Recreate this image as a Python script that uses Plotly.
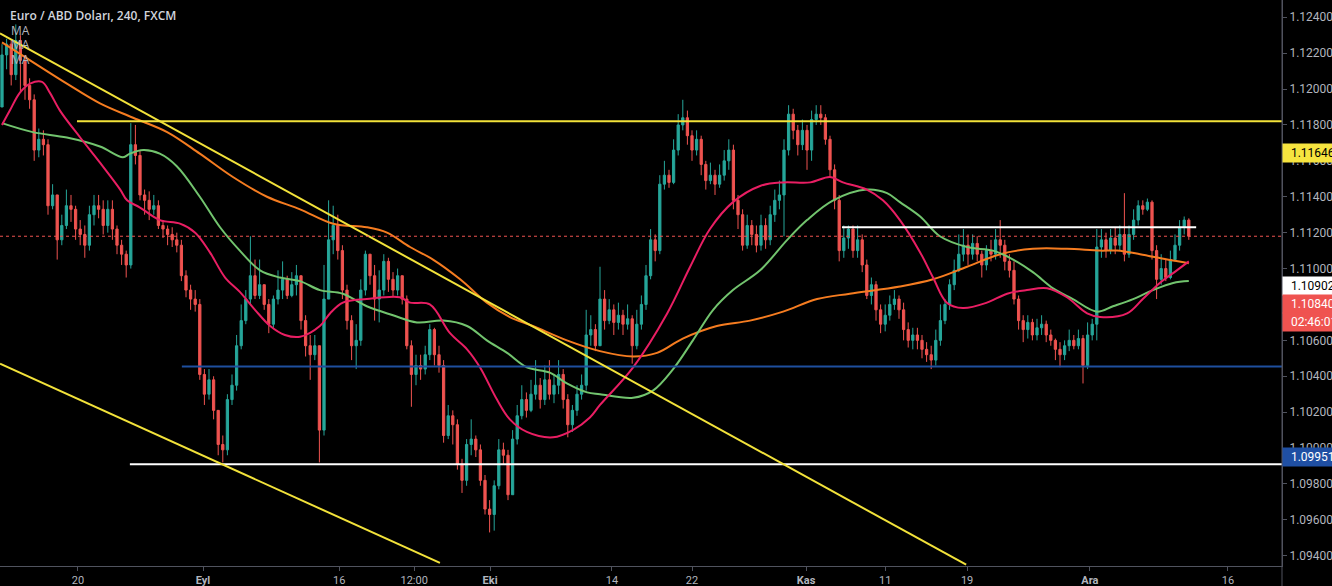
import plotly.graph_objects as go

# ---------------- data (EUR/USD 4H, one bar per 8h) ----------------
first_open = 1.1190
closes = [
    1.1219, 1.1225, 1.1208, 1.1227, 1.1216, 1.1202, 1.1194, 1.1166, 1.1172, 1.1169,
    1.1135, 1.1141, 1.1116, 1.1124, 1.1135, 1.1133, 1.1122, 1.1119, 1.1113, 1.1130,
    1.1135, 1.1133, 1.1124, 1.1133, 1.1122, 1.1113, 1.1108, 1.1102, 1.1169, 1.1163,
    1.1141, 1.1138, 1.1133, 1.1135, 1.1124, 1.1122, 1.1119, 1.1116, 1.1113, 1.1096,
    1.1088, 1.1083, 1.1080, 1.1041, 1.1030, 1.1038, 1.1021, 1.1002, 1.0999, 1.1027,
    1.1035, 1.1057, 1.1071, 1.1083, 1.1096, 1.1085, 1.1091, 1.1080, 1.1069, 1.1083,
    1.1088, 1.1094, 1.1085, 1.1091, 1.1096, 1.1071, 1.1057, 1.1052, 1.1057, 1.1010,
    1.1083, 1.1116, 1.1124, 1.1110, 1.1088, 1.1071, 1.1057, 1.1060, 1.1088, 1.1108,
    1.1096, 1.1083, 1.1088, 1.1104, 1.1094, 1.1088, 1.1096, 1.1083, 1.1057, 1.1041,
    1.1046, 1.1044, 1.1052, 1.1066, 1.1052, 1.1046, 1.1007, 1.1018, 1.1013, 1.0991,
    1.0982, 1.1002, 1.1005, 1.0999, 1.0982, 1.0966, 1.0963, 1.0979, 1.0999, 1.0996,
    1.0974, 1.1005, 1.1018, 1.1027, 1.1021, 1.1030, 1.1035, 1.1027, 1.1038, 1.1030,
    1.1035, 1.1041, 1.1027, 1.1013, 1.1021, 1.1030, 1.1035, 1.1063, 1.1066, 1.1057,
    1.1083, 1.1071, 1.1077, 1.1070, 1.1074, 1.1069, 1.1072, 1.1057, 1.1069, 1.1080,
    1.1096, 1.1116, 1.1110, 1.1147, 1.1152, 1.1148, 1.1166, 1.1180, 1.1184, 1.1174,
    1.1166, 1.1172, 1.1158, 1.1149, 1.1152, 1.1147, 1.1152, 1.1160, 1.1166, 1.1138,
    1.1130, 1.1113, 1.1124, 1.1119, 1.1113, 1.1124, 1.1116, 1.1130, 1.1138, 1.1141,
    1.1166, 1.1186, 1.1177, 1.1169, 1.1177, 1.1166, 1.1183, 1.1186, 1.1184, 1.1172,
    1.1155, 1.1138, 1.1110, 1.1117, 1.1122, 1.1110, 1.1116, 1.1102, 1.1085, 1.1091,
    1.1077, 1.1069, 1.1074, 1.1080, 1.1083, 1.1077, 1.1066, 1.1060, 1.1063, 1.1060,
    1.1055, 1.1052, 1.1049, 1.1060, 1.1071, 1.1080, 1.1091, 1.1099, 1.1108, 1.1113,
    1.1108, 1.1114, 1.1108, 1.1102, 1.1110, 1.1108, 1.1116, 1.1113, 1.1104, 1.1099,
    1.1083, 1.1071, 1.1066, 1.1070, 1.1063, 1.1067, 1.1069, 1.1063, 1.1060, 1.1055,
    1.1052, 1.1057, 1.1060, 1.1057, 1.1061, 1.1046, 1.1063, 1.1069, 1.1112, 1.1116,
    1.1110, 1.1117, 1.1113, 1.1119, 1.1108, 1.1119, 1.1127, 1.1135, 1.1133, 1.1137,
    1.1110, 1.1094, 1.1100, 1.1095, 1.1105, 1.1113, 1.1123, 1.1127, 1.1118,
]
highs = [
    1.1225, 1.1228, 1.1227, 1.1236, 1.1230, 1.1219, 1.1206, 1.1197, 1.1178, 1.1177,
    1.1172, 1.1147, 1.1141, 1.1130, 1.1144, 1.1141, 1.1135, 1.1127, 1.1124, 1.1135,
    1.1141, 1.1141, 1.1138, 1.1138, 1.1138, 1.1124, 1.1116, 1.1110, 1.1181, 1.1180,
    1.1166, 1.1144, 1.1143, 1.1141, 1.1138, 1.1127, 1.1124, 1.1123, 1.1120, 1.1116,
    1.1099, 1.1091, 1.1088, 1.1083, 1.1044, 1.1044, 1.1040, 1.1021, 1.1007, 1.1030,
    1.1041, 1.1063, 1.1080, 1.1088, 1.1118, 1.1105, 1.1105, 1.1091, 1.1083, 1.1085,
    1.1099, 1.1104, 1.1096, 1.1098, 1.1102, 1.1096, 1.1074, 1.1063, 1.1063, 1.1057,
    1.1102, 1.1138, 1.1135, 1.1130, 1.1113, 1.1091, 1.1074, 1.1069, 1.1094, 1.1110,
    1.1108, 1.1102, 1.1099, 1.1108, 1.1106, 1.1098, 1.1100, 1.1096, 1.1085, 1.1060,
    1.1052, 1.1052, 1.1057, 1.1069, 1.1067, 1.1057, 1.1049, 1.1024, 1.1021, 1.1016,
    1.0994, 1.1005, 1.1016, 1.1007, 1.1002, 1.0985, 1.0971, 1.0982, 1.1005, 1.1003,
    1.0999, 1.1010, 1.1024, 1.1035, 1.1031, 1.1038, 1.1049, 1.1039, 1.1046, 1.1049,
    1.1041, 1.1049, 1.1044, 1.1030, 1.1024, 1.1035, 1.1041, 1.1077, 1.1074, 1.1069,
    1.1101, 1.1088, 1.1083, 1.1080, 1.1081, 1.1077, 1.1080, 1.1074, 1.1077, 1.1085,
    1.1102, 1.1122, 1.1119, 1.1152, 1.1160, 1.1155, 1.1172, 1.1186, 1.1194, 1.1188,
    1.1177, 1.1177, 1.1174, 1.1160, 1.1159, 1.1155, 1.1158, 1.1166, 1.1172, 1.1169,
    1.1141, 1.1133, 1.1130, 1.1127, 1.1124, 1.1130, 1.1128, 1.1135, 1.1144, 1.1149,
    1.1172, 1.1191, 1.1189, 1.1180, 1.1183, 1.1180, 1.1188, 1.1191, 1.1191, 1.1186,
    1.1174, 1.1158, 1.1141, 1.1124, 1.1124, 1.1124, 1.1124, 1.1119, 1.1105, 1.1095,
    1.1093, 1.1080, 1.1080, 1.1085, 1.1088, 1.1085, 1.1081, 1.1070, 1.1067, 1.1067,
    1.1063, 1.1059, 1.1057, 1.1066, 1.1080, 1.1083, 1.1094, 1.1105, 1.1119, 1.1122,
    1.1119, 1.1119, 1.1118, 1.1110, 1.1113, 1.1116, 1.1122, 1.1127, 1.1116, 1.1108,
    1.1104, 1.1085, 1.1074, 1.1074, 1.1072, 1.1072, 1.1074, 1.1071, 1.1066, 1.1061,
    1.1059, 1.1060, 1.1066, 1.1063, 1.1066, 1.1063, 1.1070, 1.1072, 1.1122, 1.1122,
    1.1120, 1.1122, 1.1123, 1.1124, 1.1142, 1.1124, 1.1133, 1.1138, 1.1138, 1.1139,
    1.1138, 1.1113, 1.1108, 1.1105, 1.1110, 1.1119, 1.1127, 1.1129, 1.1128,
]
lows = [
    1.1190, 1.1211, 1.1202, 1.1205, 1.1198, 1.1194, 1.1189, 1.1160, 1.1162, 1.1163,
    1.1130, 1.1133, 1.1105, 1.1113, 1.1122, 1.1126, 1.1116, 1.1113, 1.1106, 1.1110,
    1.1124, 1.1128, 1.1119, 1.1120, 1.1116, 1.1108, 1.1102, 1.1095, 1.1100, 1.1158,
    1.1138, 1.1130, 1.1127, 1.1130, 1.1122, 1.1117, 1.1113, 1.1112, 1.1109, 1.1093,
    1.1084, 1.1077, 1.1076, 1.1038, 1.1024, 1.1027, 1.1016, 1.0996, 1.0992, 1.0996,
    1.1024, 1.1032, 1.1055, 1.1069, 1.1080, 1.1083, 1.1083, 1.1077, 1.1064, 1.1067,
    1.1080, 1.1083, 1.1083, 1.1084, 1.1085, 1.1066, 1.1051, 1.1038, 1.1049, 1.0992,
    1.1007, 1.1083, 1.1108, 1.1105, 1.1083, 1.1066, 1.1049, 1.1044, 1.1057, 1.1085,
    1.1091, 1.1071, 1.1070, 1.1085, 1.1087, 1.1084, 1.1085, 1.1080, 1.1055, 1.1023,
    1.1035, 1.1038, 1.1041, 1.1049, 1.1046, 1.1042, 1.1003, 1.1005, 1.1002, 1.0988,
    1.0975, 1.0979, 1.0996, 1.0995, 1.0979, 1.0963, 1.0953, 1.0954, 1.0977, 1.0991,
    1.0971, 1.0974, 1.1002, 1.1016, 1.1017, 1.1020, 1.1027, 1.1022, 1.1024, 1.1027,
    1.1025, 1.1030, 1.1022, 1.1006, 1.1009, 1.1018, 1.1027, 1.1032, 1.1057, 1.1054,
    1.1057, 1.1066, 1.1069, 1.1063, 1.1066, 1.1063, 1.1066, 1.1047, 1.1055, 1.1066,
    1.1077, 1.1094, 1.1104, 1.1108, 1.1144, 1.1145, 1.1147, 1.1163, 1.1177, 1.1169,
    1.1160, 1.1163, 1.1152, 1.1144, 1.1147, 1.1141, 1.1145, 1.1149, 1.1155, 1.1133,
    1.1122, 1.1110, 1.1111, 1.1113, 1.1109, 1.1110, 1.1111, 1.1113, 1.1126, 1.1133,
    1.1118, 1.1163, 1.1172, 1.1163, 1.1166, 1.1155, 1.1160, 1.1180, 1.1180, 1.1169,
    1.1151, 1.1133, 1.1104, 1.1106, 1.1111, 1.1106, 1.1106, 1.1098, 1.1083, 1.1080,
    1.1071, 1.1064, 1.1065, 1.1071, 1.1077, 1.1072, 1.1060, 1.1056, 1.1055, 1.1055,
    1.1050, 1.1048, 1.1044, 1.1046, 1.1057, 1.1069, 1.1077, 1.1088, 1.1098, 1.1104,
    1.1102, 1.1105, 1.1104, 1.1095, 1.1099, 1.1104, 1.1105, 1.1106, 1.1099, 1.1095,
    1.1080, 1.1066, 1.1059, 1.1061, 1.1060, 1.1060, 1.1063, 1.1059, 1.1057, 1.1049,
    1.1045, 1.1049, 1.1054, 1.1055, 1.1055, 1.1036, 1.1044, 1.1060, 1.1060, 1.1106,
    1.1106, 1.1108, 1.1108, 1.1110, 1.1104, 1.1106, 1.1116, 1.1124, 1.1130, 1.1132,
    1.1105, 1.1083, 1.1091, 1.1093, 1.1094, 1.1104, 1.1110, 1.1119, 1.1116,
]

# moving averages (sampled along the bar index)
ma_fast_x = [0, 1.7, 3.9, 6.1, 8.7, 10.4, 12.6, 17.0, 21.3, 25.7, 27.2, 30.0, 34.3, 38.7, 42.0,
             45.2, 48.5, 51.7, 55.0, 58.3, 61.5, 64.8, 69.1, 71.3, 74.1, 79.3, 86.5, 88.7, 93.0,
             97.4, 101.1, 103.9, 107.6, 110.4, 114.1, 119.8, 124.1, 127.8, 130.0, 137.2, 144.6,
             149.6, 153.9, 158.9, 164.8, 169.8, 175.7, 180.0, 182.8, 188.0, 191.5, 195.2, 199.6,
             202.4, 205.4, 208.9, 214.1, 218.5, 222.8, 227.2, 231.5, 235.9, 238.7, 244.6, 248.0,
             251.7, 255.4, 258]
ma_fast_y = [1.1180, 1.1188, 1.1198, 1.1203, 1.1204, 1.1198, 1.1188, 1.1173, 1.1159, 1.1144,
             1.1138, 1.1134, 1.1127, 1.1125, 1.1120, 1.1109, 1.1095, 1.1087, 1.1077, 1.1068,
             1.1063, 1.1062, 1.1068, 1.1075, 1.1081, 1.1083, 1.1084, 1.1081, 1.1080, 1.1064,
             1.1055, 1.1045, 1.1027, 1.1016, 1.1009, 1.1006, 1.1010, 1.1017, 1.1024, 1.1045,
             1.1075, 1.1101, 1.1122, 1.1137, 1.1146, 1.1148, 1.1148, 1.1151, 1.1148, 1.1144,
             1.1138, 1.1127, 1.1109, 1.1095, 1.1081, 1.1078, 1.1081, 1.1086, 1.1088, 1.1089,
             1.1084, 1.1075, 1.1073, 1.1075, 1.1083, 1.1092, 1.1099, 1.1104]
ma_mid_x = [0, 6.7, 14.1, 21.3, 26.3, 27.8, 30.7, 34.3, 38.0, 43.0, 47.4, 51.7, 56.1, 60.4, 64.8,
            69.1, 74.1, 79.3, 85.0, 90.2, 95.9, 101.1, 105.4, 109.8, 114.1, 119.1, 122.8, 127.2,
            130.0, 137.2, 141.5, 145.9, 150.2, 154.6, 158.9, 164.8, 170.7, 175.0, 180.7, 188.0,
            192.4, 195.2, 199.6, 203.9, 209.8, 215.4, 219.1, 224.1, 228.5, 232.8, 238.0, 241.5,
            245.9, 250.2, 254.6, 258]
ma_mid_y = [1.1181, 1.1176, 1.1173, 1.1168, 1.1162, 1.1164, 1.1166, 1.1164, 1.1157, 1.1140,
            1.1123, 1.1110, 1.1099, 1.1095, 1.1093, 1.1088, 1.1086, 1.1079, 1.1074, 1.1070,
            1.1071, 1.1068, 1.1060, 1.1053, 1.1045, 1.1042, 1.1036, 1.1031, 1.1030, 1.1028,
            1.1032, 1.1044, 1.1060, 1.1077, 1.1088, 1.1099, 1.1116, 1.1127, 1.1138, 1.1144,
            1.1142, 1.1137, 1.1129, 1.1118, 1.1112, 1.1110, 1.1106, 1.1098, 1.1089, 1.1083,
            1.1076, 1.1079, 1.1083, 1.1088, 1.1092, 1.1093]
ma_slow_x = [0, 6.7, 14.1, 21.3, 28.5, 35.9, 43.0, 50.2, 57.6, 64.8, 72.0, 79.3, 83.7, 88.7, 93.7,
             99.6, 105.4, 110.4, 115.4, 122.8, 130.0, 137.2, 142.4, 148.0, 155.4, 162.6, 169.8,
             177.2, 184.3, 195.2, 202.4, 209.8, 217.0, 224.1, 231.5, 238.7, 242.4, 247.4, 253.3, 258]
ma_slow_y = [1.1226, 1.1215, 1.1203, 1.1192, 1.1184, 1.1176, 1.1164, 1.1151, 1.1140, 1.1133,
             1.1125, 1.1123, 1.1120, 1.1112, 1.1105, 1.1094, 1.1081, 1.1073, 1.1068, 1.1060,
             1.1054, 1.1051, 1.1053, 1.1061, 1.1068, 1.1071, 1.1076, 1.1083, 1.1086, 1.1090,
             1.1094, 1.1101, 1.1108, 1.1111, 1.1111, 1.1110, 1.1110, 1.1108, 1.1105, 1.1103]

# drawn levels (price, start bar, end bar)
level_prices = [1.1182, 1.1123, 1.10455, 1.0991]
level_start = [16.3, 182.6, 39.1, 27.8]
level_end = [278.3, 259.6, 278.3, 278.3]
level_colors = ["#f2e23a", "#ffffff", "#1e4f9e", "#ffffff"]

# trend lines ((bar, price), (bar, price))
trend_lines = [((-0.44, 1.1231), (209.6, 1.0935)),
               ((-0.44, 1.1047), (95.2, 1.0936))]

# price axis labels on the right
tag_texts = ["1.11646", "1.10902", "1.10840", "02:46:01", "1.09951"]
tag_prices = [1.11646, 1.10902, 1.1080, 1.1070, 1.09951]
tag_bg = ["#f6e43f", "#ffffff", "#ef5350", "#ef5350", "#1f4fa3"]
tag_fg = ["#000000", "#000000", "#ffffff", "#ffffff", "#ffffff"]

y_ticks = [1.0940, 1.0960, 1.0980, 1.1000, 1.1020, 1.1040, 1.1060, 1.1080, 1.1100,
           1.1120, 1.1140, 1.1160, 1.1180, 1.1200, 1.1220, 1.1240]
x_tick_pos = [16.5, 43.7, 73.3, 89.6, 106.1, 132.6, 150.0, 174.8, 192.0, 209.8, 236.5, 266.5]
x_tick_text = ["20", "<b>Eyl</b>", "16", "12:00", "<b>Eki</b>", "14", "22", "<b>Kas</b>",
               "11", "19", "<b>Ara</b>", "16"]

# ---------------- figure ----------------
UP = "#26a69a"
DN = "#ef5350"
AX = "#50535e"
TXT = "#b2b5be"

idx = list(range(len(closes)))
opens = [first_open] + closes[:-1]

fig = go.Figure()
fig.add_trace(go.Candlestick(
    x=idx, open=opens, high=highs, low=lows, close=closes,
    increasing=dict(line=dict(color=UP, width=1), fillcolor=UP),
    decreasing=dict(line=dict(color=DN, width=1), fillcolor=DN),
    whiskerwidth=0, hoverinfo="skip", showlegend=False,
))
for xs, ys, col in [(ma_slow_x, ma_slow_y, "#f57c20"),
                    (ma_mid_x, ma_mid_y, "#72c46e"),
                    (ma_fast_x, ma_fast_y, "#e91e63")]:
    fig.add_trace(go.Scatter(x=xs, y=ys, mode="lines", hoverinfo="skip", showlegend=False,
                             line=dict(color=col, width=2, shape="spline", smoothing=1.0)))

shapes = []
for p, x0, x1, c in zip(level_prices, level_start, level_end, level_colors):
    shapes.append(dict(type="line", xref="x", yref="y", x0=x0, x1=x1, y0=p, y1=p,
                       line=dict(color=c, width=2), layer="above"))
for (xa, ya), (xb, yb) in trend_lines:
    shapes.append(dict(type="line", xref="x", yref="y", x0=xa, y0=ya, x1=xb, y1=yb,
                       line=dict(color="#f2e23a", width=2), layer="above"))
shapes.append(dict(type="line", xref="paper", yref="y", x0=0, x1=1, y0=closes[-1], y1=closes[-1],
                   line=dict(color=DN, width=1, dash="dot"), layer="above"))
shapes.append(dict(type="line", xref="paper", yref="paper", x0=1, x1=1, y0=-0.05, y1=1,
                   line=dict(color=AX, width=1), layer="above"))

annotations = [
    dict(xref="paper", yref="paper", x=0, y=1, xanchor="left", yanchor="middle",
         xshift=8, yshift=-15, showarrow=False, text="Euro / ABD Doları, 240, FXCM",
         font=dict(family="Open Sans", size=12, color="#d1d4dc", weight=600)),
]
for k in range(3):
    annotations.append(dict(xref="paper", yref="paper", x=0, y=1, xanchor="left", yanchor="middle",
                            xshift=9, yshift=-30 - 14.5 * k, showarrow=False, text="MA",
                            font=dict(family="Open Sans", size=12, color="#b2b5be")))
for t, p, bg, fg in zip(tag_texts, tag_prices, tag_bg, tag_fg):
    annotations.append(dict(xref="paper", yref="y", x=1, y=p, xanchor="left", yanchor="middle",
                            showarrow=False, text="\u00a0\u00a0" + t + "\u00a0",
                            bgcolor=bg, borderpad=2,
                            font=dict(family="Roboto", size=12, color=fg)))

fig.update_layout(
    width=1332, height=586,
    margin=dict(l=0, r=50, t=0, b=20),
    paper_bgcolor="#000000", plot_bgcolor="#000000",
    showlegend=False, hovermode=False, dragmode=False,
    shapes=shapes, annotations=annotations,
    xaxis=dict(range=[-0.435, 278.26], showgrid=False, zeroline=False,
               tickmode="array", tickvals=x_tick_pos, ticktext=x_tick_text,
               ticks="outside", ticklen=4, tickcolor=AX,
               showline=True, linecolor=AX, linewidth=1,
               tickfont=dict(family="Roboto", size=11, color=TXT),
               rangeslider=dict(visible=False), fixedrange=True),
    yaxis=dict(side="right", range=[1.09343, 1.12496], showgrid=False, zeroline=False,
               tickmode="array", tickvals=y_ticks, ticktext=[f"{v:.5f}" for v in y_ticks],
               ticks="outside", ticklen=4, tickcolor=AX,
               showline=True, linecolor=AX, linewidth=1,
               tickfont=dict(family="Roboto", size=12, color=TXT),
               automargin=False, fixedrange=True),
)

fig.write_html("out.html", config={"displayModeBar": False, "staticPlot": True})
